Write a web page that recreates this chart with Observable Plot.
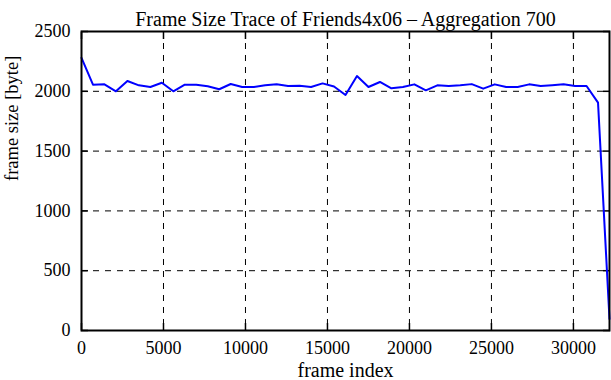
<!DOCTYPE html>
<html>
<head>
<meta charset="utf-8">
<script src="https://cdn.jsdelivr.net/npm/d3@7"></script>
<script src="https://cdn.jsdelivr.net/npm/@observablehq/plot@0.6"></script>
<style>
  html, body { margin: 0; padding: 0; background: white; }
</style>
</head>
<body>
<div id="chart"></div>
<script>
const titleText = "Frame Size Trace of Friends4x06 \u2013 Aggregation 700";
const xLabel = "frame index";
const yLabel = "frame size [byte]";
const xTicks = [0, 5000, 10000, 15000, 20000, 25000, 30000];
const yTicks = [0, 500, 1000, 1500, 2000, 2500];
const frameIndex = [0, 700, 1400, 2100, 2800, 3500, 4200, 4900, 5600, 6300, 7000, 7700, 8400, 9100, 9800, 10500, 11200, 11900, 12600, 13300, 14000, 14700, 15400, 16100, 16800, 17500, 18200, 18900, 19600, 20300, 21000, 21700, 22400, 23100, 23800, 24500, 25200, 25900, 26600, 27300, 28000, 28700, 29400, 30100, 30800, 31500, 32200];
const frameSize = [2280, 2055, 2058, 2000, 2086, 2050, 2036, 2072, 2000, 2055, 2055, 2042, 2017, 2061, 2036, 2036, 2050, 2058, 2044, 2047, 2036, 2066, 2040, 1969, 2128, 2036, 2078, 2025, 2036, 2058, 2008, 2050, 2044, 2050, 2060, 2022, 2058, 2036, 2036, 2058, 2044, 2050, 2058, 2044, 2044, 1905, 97];

const data = frameIndex.map((f, i) => ({f, s: frameSize[i]}));
const fmt = d => String(d);

const chart = Plot.plot({
  width: 611,
  height: 380,
  marginTop: 31,
  marginBottom: 50,
  marginLeft: 81,
  marginRight: 2,
  style: {fontFamily: "'Liberation Serif', 'DejaVu Serif', serif", fontSize: "18px", color: "black", background: "white"},
  x: {domain: [0, 32200]},
  y: {domain: [0, 2500]},
  marks: [
    Plot.gridX(xTicks, {stroke: "black", strokeOpacity: 1, strokeWidth: 1, strokeDasharray: "6,6"}),
    Plot.gridY(yTicks, {stroke: "black", strokeOpacity: 1, strokeWidth: 1, strokeDasharray: "6,6"}),
    Plot.axisX(xTicks, {anchor: "bottom", tickSize: 0, tickPadding: 11, label: null, fontSize: 18, tickFormat: fmt}),
    Plot.axisY(yTicks, {anchor: "left", tickSize: 0, tickPadding: 11, label: null, fontSize: 18, tickFormat: fmt}),
    Plot.axisX(xTicks, {anchor: "bottom", tickSize: -7, text: null, label: null, strokeWidth: 1.5}),
    Plot.axisX(xTicks, {anchor: "top", tickSize: -7, text: null, label: null, strokeWidth: 1.5}),
    Plot.axisY(yTicks, {anchor: "left", tickSize: -7, text: null, label: null, strokeWidth: 1.5}),
    Plot.axisY(yTicks, {anchor: "right", tickSize: -7, text: null, label: null, strokeWidth: 1.5}),
    Plot.line(data, {x: "f", y: "s", stroke: "#0000ff", strokeWidth: 2}),
    Plot.frame({stroke: "black", strokeWidth: 2}),
    Plot.text([titleText], {frameAnchor: "top", dy: -20, fontSize: 20, fill: "black"}),
    Plot.text([xLabel], {frameAnchor: "bottom", dy: 46, fontSize: 20, fill: "black"}),
    Plot.text([yLabel], {frameAnchor: "left", dx: -69, rotate: -90, fontSize: 18.5, fill: "black"})
  ]
});
document.getElementById("chart").appendChild(chart);
</script>
</body>
</html>
